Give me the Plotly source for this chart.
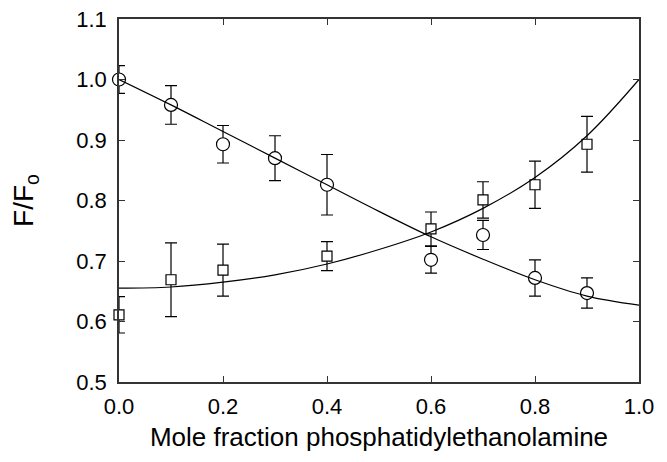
import plotly.graph_objects as go

# Data
x_pts = [0.0, 0.1, 0.2, 0.3, 0.4, 0.6, 0.7, 0.8, 0.9]
circ_y = [1.000, 0.958, 0.893, 0.870, 0.826, 0.702, 0.743, 0.672, 0.647]
circ_err = [0.023, 0.032, 0.031, 0.037, 0.050, 0.022, 0.024, 0.030, 0.025]

sq_x = [0.0, 0.1, 0.2, 0.4, 0.6, 0.7, 0.8, 0.9]
sq_y = [0.611, 0.669, 0.685, 0.708, 0.753, 0.801, 0.826, 0.893]
sq_err = [0.030, 0.061, 0.043, 0.024, 0.028, 0.030, 0.039, 0.046]

fit_x = [0.0, 0.1, 0.2, 0.3, 0.4, 0.5, 0.6, 0.7, 0.8, 0.9, 1.0]
circ_fit = [1.000, 0.958, 0.914, 0.870, 0.826, 0.782, 0.740, 0.703, 0.669, 0.642, 0.627]
sq_fit = [0.655, 0.657, 0.665, 0.677, 0.695, 0.719, 0.748, 0.787, 0.838, 0.907, 1.000]

x_ticks = [0.0, 0.2, 0.4, 0.6, 0.8, 1.0]
x_ticklabels = ["0.0", "0.2", "0.4", "0.6", "0.8", "1.0"]
y_ticks = [0.5, 0.6, 0.7, 0.8, 0.9, 1.0, 1.1]
y_ticklabels = ["0.5", "0.6", "0.7", "0.8", "0.9", "1.0", "1.1"]

FONT = "Liberation Sans, Arial, sans-serif"

fig = go.Figure()

err_style = dict(type="data", thickness=1.2, width=6, color="black")

fig.add_trace(go.Scatter(
    x=x_pts, y=circ_y, mode="markers",
    error_y=dict(array=circ_err, **err_style),
    marker=dict(symbol="circle", size=13, color="white",
                line=dict(color="black", width=1.2)),
    cliponaxis=False, showlegend=False))

fig.add_trace(go.Scatter(
    x=sq_x, y=sq_y, mode="markers",
    error_y=dict(array=sq_err, **err_style),
    marker=dict(symbol="square", size=10, color="white",
                line=dict(color="black", width=1.2)),
    cliponaxis=False, showlegend=False))

fig.add_trace(go.Scatter(
    x=fit_x, y=circ_fit, mode="lines",
    line=dict(color="black", width=1.2, shape="spline", smoothing=1.0),
    showlegend=False))

fig.add_trace(go.Scatter(
    x=fit_x, y=sq_fit, mode="lines",
    line=dict(color="black", width=1.2, shape="spline", smoothing=1.0),
    showlegend=False))

axis_common = dict(
    showline=True, linecolor="#333333", linewidth=1.5, mirror="ticks",
    ticks="inside", ticklen=6, tickcolor="#333333", tickwidth=1.2,
    showgrid=False, zeroline=False, automargin=False,
    ticklabeloverflow="allow",
    tickfont=dict(family=FONT, size=22, color="black"),
)

fig.update_xaxes(
    range=[0, 1.0], tickvals=x_ticks, ticktext=x_ticklabels,
    ticklabelstandoff=4,
    title=dict(text="Mole fraction phosphatidylethanolamine",
               font=dict(family=FONT, size=26, color="black"), standoff=10),
    **axis_common)
fig.update_yaxes(
    range=[0.5, 1.1], tickvals=y_ticks, ticktext=y_ticklabels,
    ticklabelstandoff=6,
    title=dict(text="F/F<sub>o</sub>",
               font=dict(family=FONT, size=28, color="black"), standoff=36),
    **axis_common)

# The page body has an 8 px margin, so the figure is sized to fit the window.
fig.update_layout(
    width=659, height=454,
    margin=dict(l=111, r=28, t=11, b=80),
    paper_bgcolor="white", plot_bgcolor="white",
    font=dict(family=FONT, color="black"),
)

fig.write_html("out.html")
